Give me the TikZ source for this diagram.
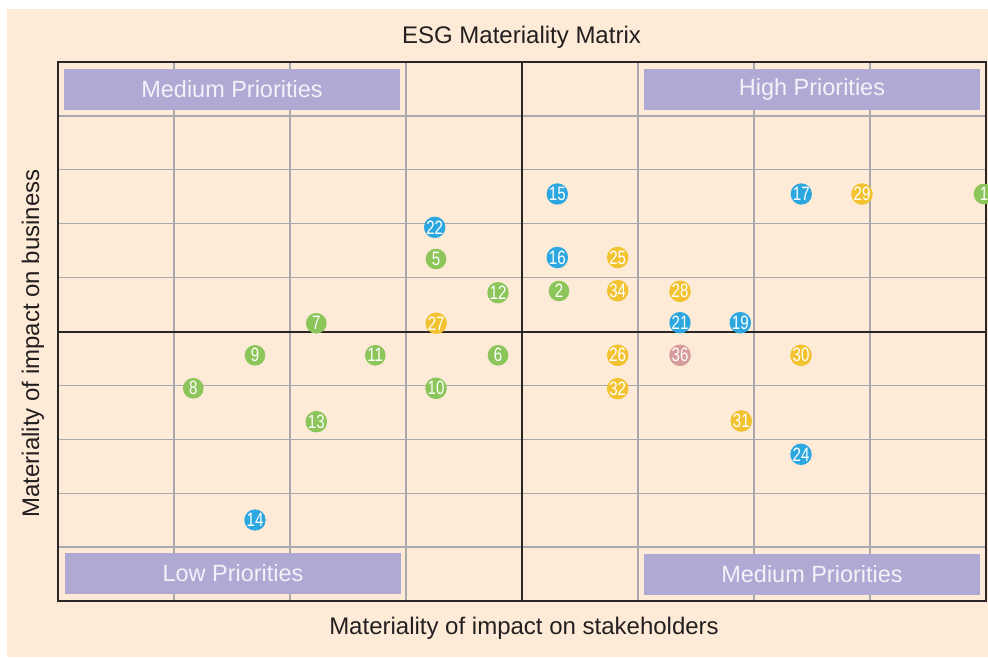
\documentclass[tikz,border=0pt]{standalone}
\usepackage{fontspec}
\setmainfont{Liberation Sans}
\newfontfamily\numfont[FakeStretch=0.78]{Liberation Sans}
\definecolor{peach}{HTML}{FEEBD7}
\definecolor{gridgray}{HTML}{A7A9AC}
\definecolor{framedark}{HTML}{2B2626}
\definecolor{boxlav}{HTML}{AFA9D4}
\definecolor{textdark}{HTML}{231F20}
\definecolor{dblue}{HTML}{2CA7E0}
\definecolor{dgreen}{HTML}{8CC55A}
\definecolor{dyellow}{HTML}{F2C230}
\definecolor{dpink}{HTML}{D69B9B}
\definecolor{labwhite}{HTML}{F4F2F9}
\tikzset{
  dotbase/.style={circle, minimum size=15.5pt, inner sep=0pt, text=white,
    font=\numfont\fontsize{14.5}{15}\selectfont},
  bdot/.style={dotbase, fill=dblue},
  gdot/.style={dotbase, fill=dgreen},
  ydot/.style={dotbase, fill=dyellow},
  pdot/.style={dotbase, fill=dpink},
  prio/.style={fill=boxlav, text=labwhite, inner sep=0pt,
    font=\fontsize{17.6}{20}\selectfont},
  axistext/.style={text=textdark, font=\fontsize{18}{20}\selectfont, inner sep=0pt},
  gridline/.style={draw=gridgray, line width=1pt},
}
\begin{document}
\begin{tikzpicture}[x=0.75pt, y=-0.75pt]
\useasboundingbox (0,0) rectangle (988,657);
\fill[white] (0,0) rectangle (988,657);
\fill[peach] (7,9) rectangle (988,657);
% grid
\foreach \k in {1,...,9} {
  \draw[gridline] (58,{62+\k*53.9}) -- (986,{62+\k*53.9});
}
\foreach \k in {1,2,3,5,6,7} {
  \draw[gridline] ({58+\k*116},62) -- ({58+\k*116},601);
}
% priority boxes
\node[prio, minimum width=252pt, minimum height=30.75pt] (mp1) at (232,89.5) {Medium Priorities};
\node[prio, minimum width=252pt, minimum height=30.75pt] (hp) at (812,89.5) {High Priorities};
\node[prio, minimum width=252pt, minimum height=30.75pt] (lp) at (233,573.5) {Low Priorities};
\node[prio, minimum width=252pt, minimum height=30.75pt] (mp2) at (812,574.5) {Medium Priorities};
% center axes
\draw[framedark, line width=1.5pt] (522,62) -- (522,601);
\draw[framedark, line width=1.5pt] (58,331.5) -- (986,331.5);
% frame
\draw[framedark, line width=1.1pt] (58,62) rectangle (986,601);
% texts
\node[axistext] (title) at (521.5,37) {ESG Materiality Matrix};
\node[axistext] (xlab) at (524,628) {Materiality of impact on stakeholders};
\node[axistext, rotate=90] (ylab) at (33,343.5) {Materiality of impact on business};
% dots
\node[gdot] (d1) at (984,194) {1};
\node[gdot] (d2) at (559,291) {2};
\node[gdot] (d5) at (436,259) {5};
\node[gdot] (d6) at (498,355.3) {6};
\node[gdot] (d7) at (316.3,323.3) {7};
\node[gdot] (d8) at (193.3,388.3) {8};
\node[gdot] (d9) at (255,355.3) {9};
\node[gdot] (d10) at (436,388.3) {10};
\node[gdot] (d11) at (375.3,355.3) {11};
\node[gdot] (d12) at (498,292.7) {12};
\node[gdot] (d13) at (316.3,421.7) {13};
\node[bdot] (d14) at (255,520) {14};
\node[bdot] (d15) at (557.3,194) {15};
\node[bdot] (d16) at (557.3,257.5) {16};
\node[bdot] (d17) at (801.3,194) {17};
\node[bdot] (d19) at (740.3,322.7) {19};
\node[bdot] (d21) at (680,322.7) {21};
\node[bdot] (d22) at (434.7,227.3) {22};
\node[bdot] (d24) at (801,454.3) {24};
\node[ydot] (d25) at (617.7,257.5) {25};
\node[ydot] (d26) at (617.7,355.3) {26};
\node[ydot] (d27) at (436.2,323.3) {27};
\node[ydot] (d28) at (680,291.3) {28};
\node[ydot] (d29) at (862,194) {29};
\node[ydot] (d30) at (801,355.3) {30};
\node[ydot] (d31) at (741.3,421) {31};
\node[ydot] (d32) at (617.7,388.7) {32};
\node[ydot] (d34) at (617.7,290.7) {34};
\node[pdot] (d36) at (680,355.3) {36};
\end{tikzpicture}
\end{document}
